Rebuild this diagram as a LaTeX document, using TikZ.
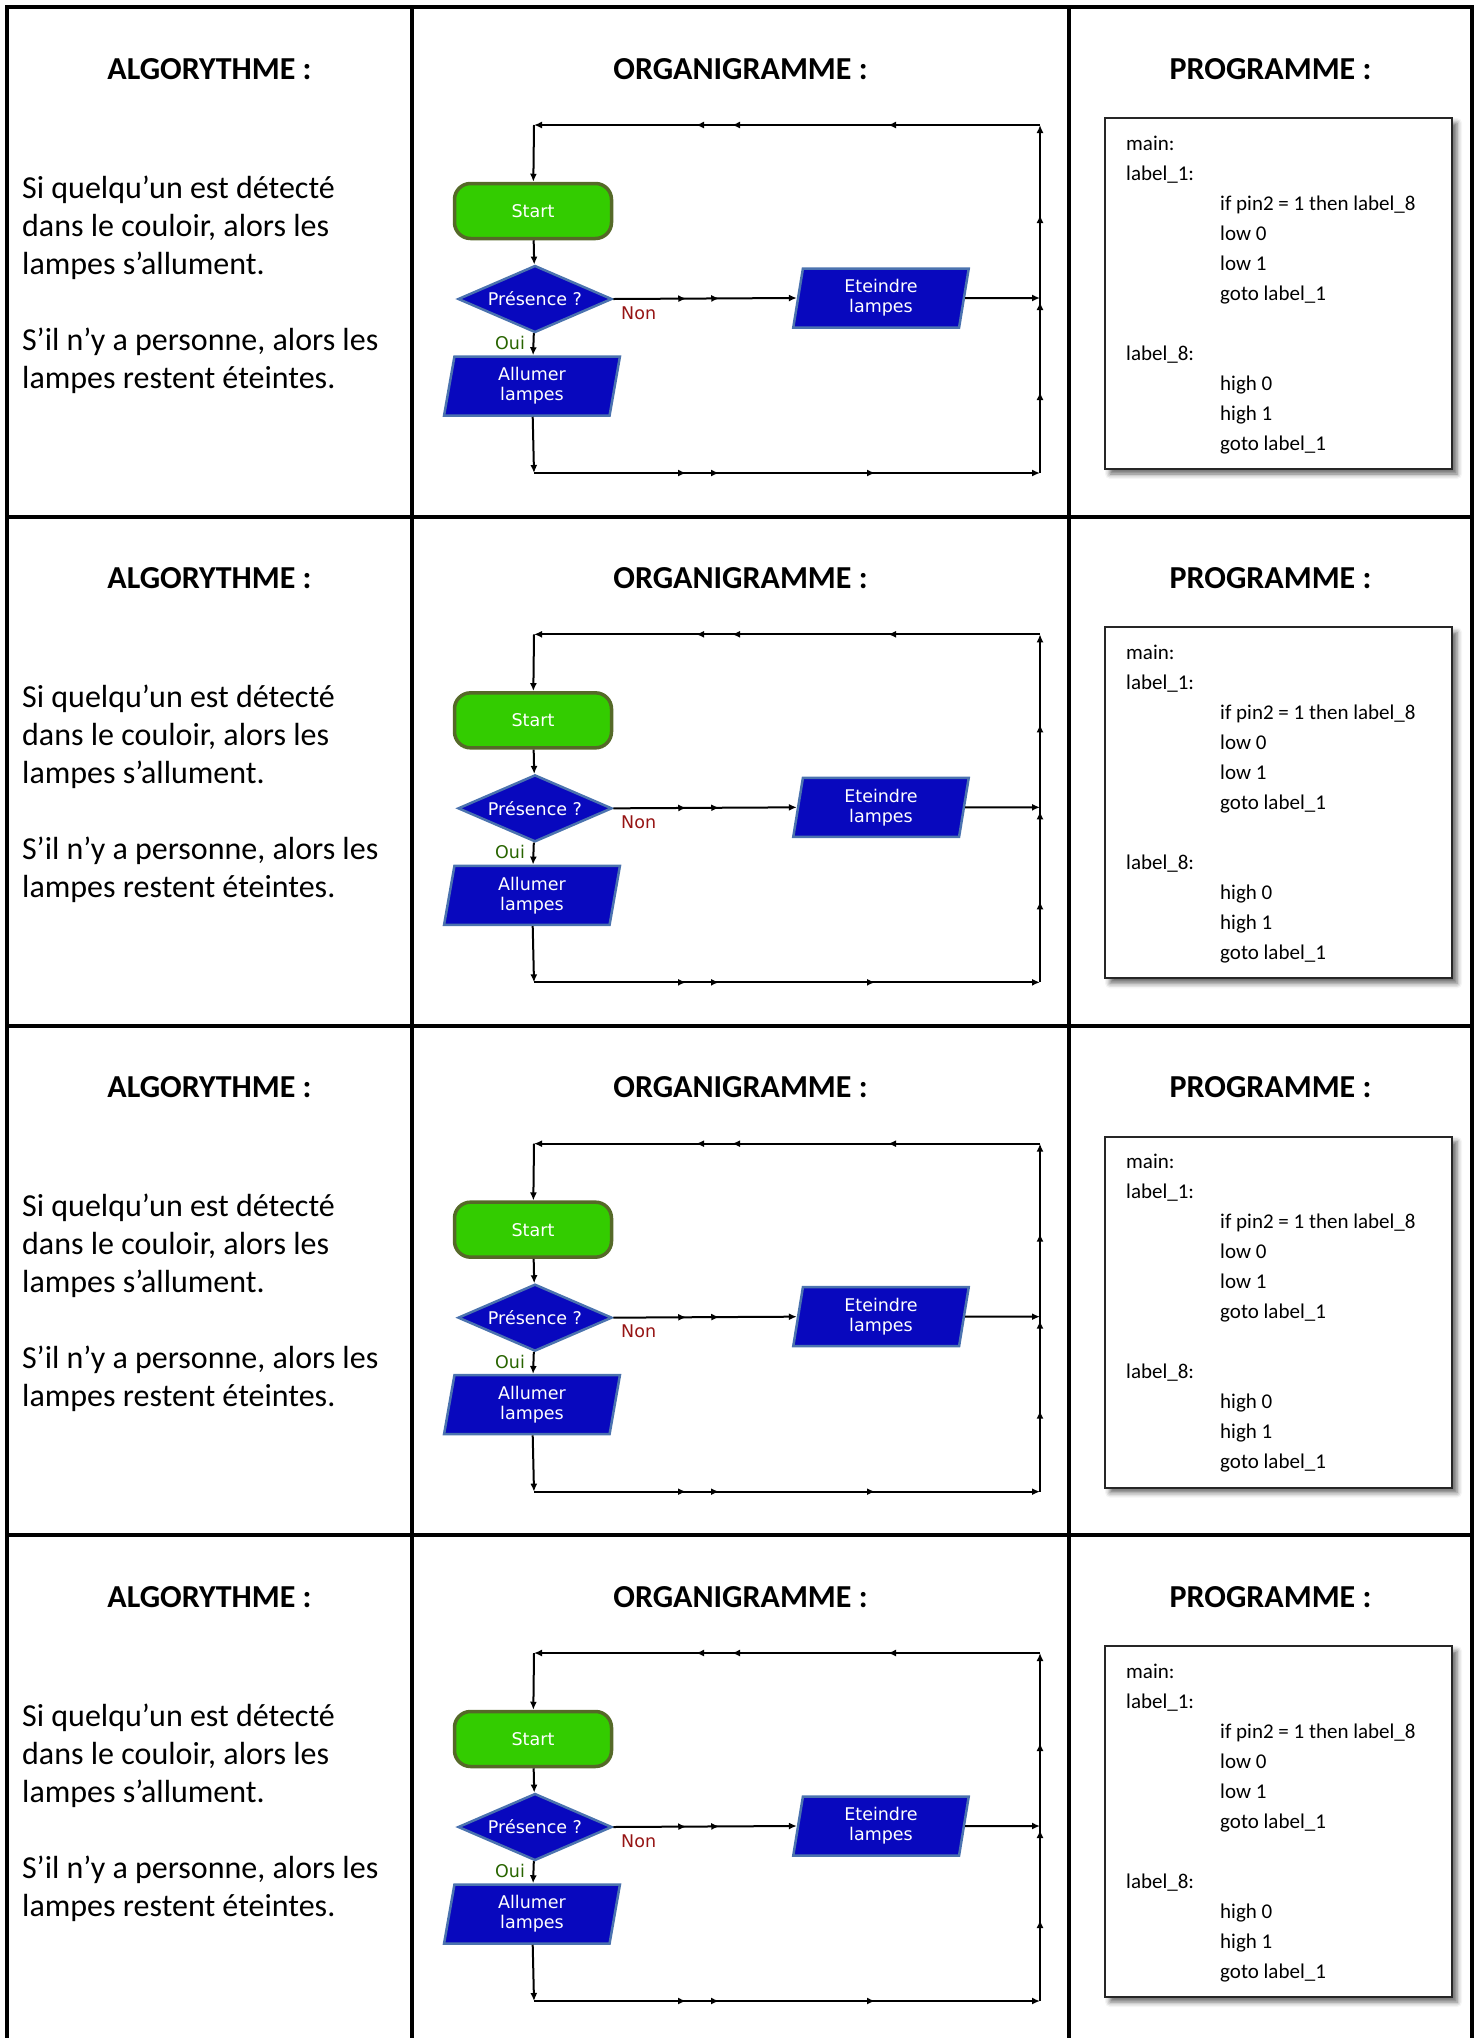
\documentclass[tikz,border=0pt]{standalone}
\usepackage{fontspec}
\setmainfont{Carlito}
\newfontfamily\flowfont{DejaVu Sans}
\usetikzlibrary{shapes.geometric,arrows.meta,decorations.markings,shadows.blur}

\definecolor{vertstart}{RGB}{51,204,0}
\definecolor{bordvert}{RGB}{85,105,40}
\definecolor{bleuorg}{RGB}{8,8,190}
\definecolor{bordbleu}{RGB}{75,115,175}
\definecolor{rougenon}{RGB}{150,20,20}
\definecolor{vertoui}{RGB}{40,100,0}

\tikzset{
  cadre/.style={line width=4pt},
  titre/.style={anchor=base, font=\fontsize{32}{38}\selectfont\bfseries},
  texte/.style={anchor=base west, align=left, inner sep=0pt, font=\fontsize{32}{38}\selectfont},
  bloc/.style={text=white, line width=2.5pt, font=\flowfont\fontsize{17.5}{20}\selectfont},
  debut/.style={bloc, rectangle, rounded corners=16pt, fill=vertstart, draw=bordvert, line width=3.5pt, minimum width=157pt, minimum height=55pt},
  test/.style={bloc, diamond, aspect=2.3, inner sep=0pt, fill=bleuorg, draw=bordbleu, minimum width=154pt, minimum height=67pt},
  action/.style={bloc, trapezium, trapezium left angle=83, trapezium right angle=97, trapezium stretches=true, inner sep=0pt, align=center, fill=bleuorg, draw=bordbleu, minimum width=176pt, minimum height=59pt},
  etiq/.style={font=\flowfont\fontsize{17.5}{20}\selectfont, inner sep=0pt},
  liaison/.style={line width=2pt, -{Latex[length=8pt,width=7pt]}},
  fl/.style={postaction={decorate, decoration={markings, mark=at position #1 with {\arrow{Latex[length=8pt,width=7pt]}}}}},
  boite/.style={draw=black!85, line width=2pt, fill=white, minimum width=347pt, minimum height=351pt, blur shadow={shadow xshift=5pt, shadow yshift=-5pt, shadow blur radius=5pt, shadow opacity=60}},
  code/.style={anchor=base west, align=left, inner sep=0pt, font=\fontsize{21}{30}\selectfont},
}

\begin{document}
\begin{tikzpicture}[x=1pt,y=-1pt]
    \useasboundingbox (0,0) rectangle (1479,2038);

    % Tableau
    \draw[cadre] (7,2040) -- (7,7) -- (1472,7) -- (1472,2040);
    \foreach \xc in {412,1069} \draw[cadre] (\xc,7) -- (\xc,2040);
    \foreach \yc in {517,1026,1535} \draw[cadre] (7,\yc) -- (1472,\yc);

    \foreach \r in {0,...,3}{
    \begin{scope}[shift={(0,\r*509.33)}]
        % Titres
        \node[titre] (algo-\r) at (209.5,79) {ALGORYTHME :};
        \node[titre] (orga-\r) at (740.5,79) {ORGANIGRAMME :};
        \node[titre] (prog-\r) at (1270.5,79) {PROGRAMME :};

        % Algorithme (base = derniere ligne)
        \node[texte] (algotxt-\r) at (22,388) {Si quelqu’un est détecté\\dans le couloir, alors les\\lampes s’allument.\\[38pt]S’il n’y a personne, alors les\\lampes restent éteintes.};

        % Organigramme
        \coordinate (hg-\r) at (534,125);
        \coordinate (hd-\r) at (1040,125);
        \coordinate (bg-\r) at (534,473);
        \coordinate (bd-\r) at (1040,473);
        \coordinate (jd-\r) at (1040,298);
        \node[debut] (start-\r) at (533,211) {Start};
        \node[test] (pres-\r) at (535,299) {Présence ?};
        \node[action] (allumer-\r) at (532,386) {Allumer\\lampes};
        \node[action] (eteindre-\r) at (881,298) {Eteindre\\lampes};
        \node[etiq, anchor=west, text=rougenon] (non-\r) at (621,313) {Non};
        \node[etiq, text=vertoui] (oui-\r) at (510,343) {Oui};

        \draw[liaison] (start-\r) -- (pres-\r);
        \draw[liaison] (pres-\r) -- (allumer-\r);
        \draw[liaison, fl=73pt, fl=106pt] (pres-\r.east) -- (eteindre-\r.west);
        \draw[liaison] (eteindre-\r.east) -- (jd-\r);
        \draw[liaison] (allumer-\r) -- (bg-\r);
        \draw[liaison, fl=152pt, fl=185pt, fl=341pt] (bg-\r) -- (bd-\r);
        \draw[liaison, fl=81pt, fl=171pt, fl=258pt] (bd-\r) -- (hd-\r);
        \draw[liaison, fl=152pt, fl=308pt, fl=344pt] (hd-\r) -- (hg-\r);
        \draw[liaison] (hg-\r) -- (start-\r);

        % Programme (base = derniere ligne)
        \node[boite] (boite-\r) at (1278.5,293.5) {};
        \node[code] (code-\r) at (1126,450) {main:\\label\_1:\\\hspace*{94pt}if pin2 = 1 then label\_8\\\hspace*{94pt}low 0\\\hspace*{94pt}low 1\\\hspace*{94pt}goto label\_1\\[30pt]label\_8:\\\hspace*{94pt}high 0\\\hspace*{94pt}high 1\\\hspace*{94pt}goto label\_1};
    \end{scope}
    }
\end{tikzpicture}
\end{document}
